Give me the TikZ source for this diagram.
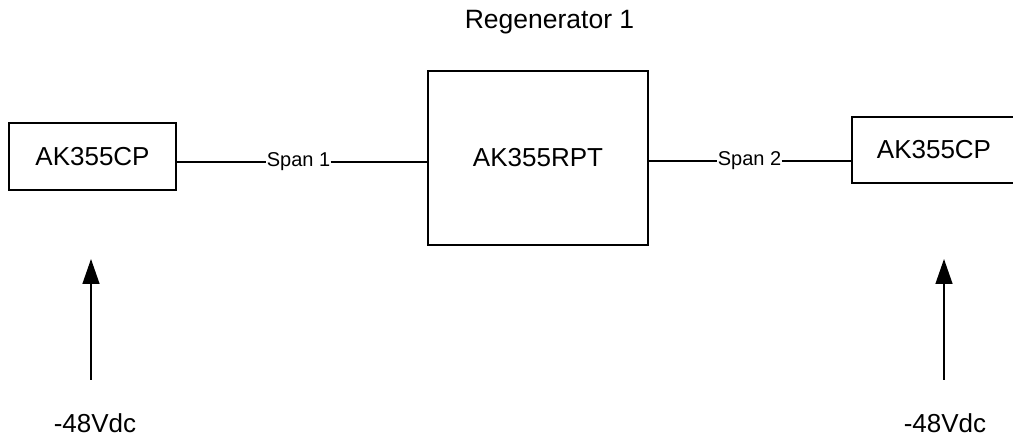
\documentclass[tikz,border=0pt]{standalone}
\usepackage{fontspec}
\setmainfont{Liberation Sans}
\usetikzlibrary{arrows.meta}
\begin{document}
\begin{tikzpicture}[x=1pt,y=-1pt,
  box/.style={draw,line width=1.4pt,inner sep=0pt},
  lbl/.style={inner sep=0pt,font=\fontsize{26}{30}\selectfont},
  spanlbl/.style={inner sep=0.3pt,font=\fontsize{20}{23}\selectfont},
  wire/.style={line width=1.4pt},
  arr/.style={line width=1.4pt,-{Triangle[length=25pt,width=17pt]}}]
\useasboundingbox (0,0) rectangle (1013,438);
\clip (0,0) rectangle (1013,438);
\node[box,minimum width=167pt,minimum height=67pt,lbl] (cp1) at (92.5,156.5) {AK355CP};
\node[box,minimum width=220pt,minimum height=174pt,lbl] (rpt) at (538,158) {AK355RPT};
\node[box,minimum width=180pt,minimum height=66pt] (cp2) at (942,150) {};
\node[lbl] (cp2t) at (934,150) {AK355CP};
\node[font=\fontsize{26.5}{30}\selectfont,inner sep=0pt] (title) at (549.5,22) {Regenerator 1};
\node[spanlbl] (s1) at (298.5,162) {Span 1};
\node[spanlbl] (s2) at (749.5,161) {Span 2};
\draw[wire] (cp1.east |- s1) -- (s1.west);
\draw[wire] (s1.east) -- (rpt.west |- s1);
\draw[wire] (rpt.east |- s2) -- (s2.west);
\draw[wire] (s2.east) -- (cp2.west |- s2);
\node[lbl] (v1) at (95,423) {-48Vdc};
\node[lbl] (v2) at (945,423) {-48Vdc};
\coordinate (a1b) at (91,380);
\coordinate (a1t) at (91,259);
\coordinate (a2b) at (944,380);
\coordinate (a2t) at (944,259);
\draw[arr] (a1b) -- (a1t);
\draw[arr] (a2b) -- (a2t);
\end{tikzpicture}
\end{document}
